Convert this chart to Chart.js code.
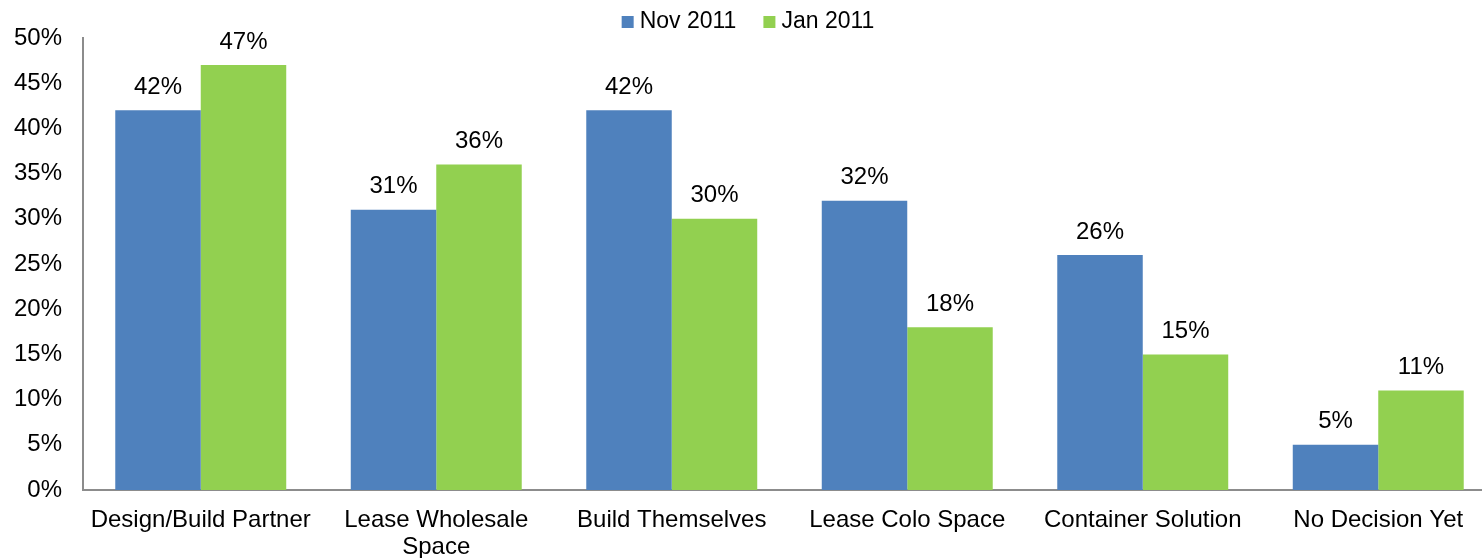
<!DOCTYPE html>
<html>
<head>
<meta charset="utf-8">
<script src="https://cdn.jsdelivr.net/npm/chart.js@4/dist/chart.umd.min.js"></script>
<style>
  body { margin: 0; background: #fff; }
  #wrap { width: 1482px; height: 558px; overflow: hidden; }
</style>
</head>
<body>
<div id="wrap"><canvas id="myChart" width="1496" height="558"></canvas></div>
<script>
var categories = ['Design/Build Partner', ['Lease Wholesale', 'Space'], 'Build Themselves',
    'Lease Colo Space', 'Container Solution', 'No Decision Yet'];
var nov2011 = [42, 31, 42, 32, 26, 5];
var jan2011 = [47, 36, 30, 18, 15, 11];
var yTicks = [0, 5, 10, 15, 20, 25, 30, 35, 40, 45, 50];

var FONT = '"Liberation Sans", Arial, sans-serif';
Chart.defaults.font.family = FONT;
Chart.defaults.font.size = 24;
Chart.defaults.color = '#000';

// percentage text above each bar
var valueLabels = {
    id: 'valueLabels',
    afterDatasetsDraw: function(chart) {
        var ctx = chart.ctx;
        ctx.save();
        ctx.font = '24px ' + FONT;
        ctx.fillStyle = '#000';
        ctx.textAlign = 'center';
        ctx.textBaseline = 'middle';
        chart.data.datasets.forEach(function(ds, i) {
            chart.getDatasetMeta(i).data.forEach(function(bar, j) {
                ctx.fillText(ds.data[j] + '%', bar.x, bar.y - 23);
            });
        });
        ctx.restore();
    }
};

// small square + label legend, centred over the canvas
var topLegend = {
    id: 'topLegend',
    afterDraw: function(chart) {
        var ctx = chart.ctx;
        var box = 12, gap = 6, spacing = 27;
        ctx.save();
        ctx.font = '23px ' + FONT;
        ctx.textBaseline = 'middle';
        ctx.textAlign = 'left';
        var items = chart.data.datasets.map(function(ds) {
            return { text: ds.label, color: ds.backgroundColor, w: ctx.measureText(ds.label).width };
        });
        var total = 0;
        items.forEach(function(it, i) {
            total += box + gap + it.w + (i < items.length - 1 ? spacing : 0);
        });
        var x = (chart.width - total) / 2;
        var y = 22;
        items.forEach(function(it) {
            ctx.fillStyle = it.color;
            ctx.fillRect(x, y - box / 2, box, box);
            ctx.fillStyle = '#000';
            ctx.fillText(it.text, x + box + gap, y);
            x += box + gap + it.w + spacing;
        });
        ctx.restore();
    }
};

var ctx = document.getElementById('myChart').getContext('2d');
var chart = new Chart(ctx, {
    type: 'bar',
    data: {
        labels: categories,
        datasets: [
            { label: 'Nov 2011', data: nov2011, backgroundColor: '#4F81BD' },
            { label: 'Jan 2011', data: jan2011, backgroundColor: '#92D050' }
        ]
    },
    plugins: [valueLabels, topLegend],
    options: {
        responsive: false,
        animation: false,
        layout: { padding: { top: 38, right: 0, bottom: 0, left: 0 } },
        datasets: {
            bar: { categoryPercentage: 0.726, barPercentage: 1.0 }
        },
        plugins: {
            tooltip: { enabled: false },
            legend: { display: false }
        },
        scales: {
            x: {
                grid: { display: false, drawTicks: false },
                border: { display: true, color: '#8c8c8c', width: 2 },
                ticks: { padding: 17, maxRotation: 0, autoSkip: false, font: { size: 24, lineHeight: 1.12 } },
                afterFit: function(scale) { scale.height = 68; }
            },
            y: {
                min: 0,
                max: 50,
                afterBuildTicks: function(scale) {
                    scale.ticks = yTicks.map(function(v) { return { value: v }; });
                },
                grid: { display: false, drawTicks: false },
                border: { display: true, color: '#8c8c8c', width: 2 },
                ticks: {
                    padding: 21,
                    callback: function(v) { return v + '%'; }
                },
                afterFit: function(scale) { scale.width = 83; }
            }
        }
    }
});
</script>
</body>
</html>
